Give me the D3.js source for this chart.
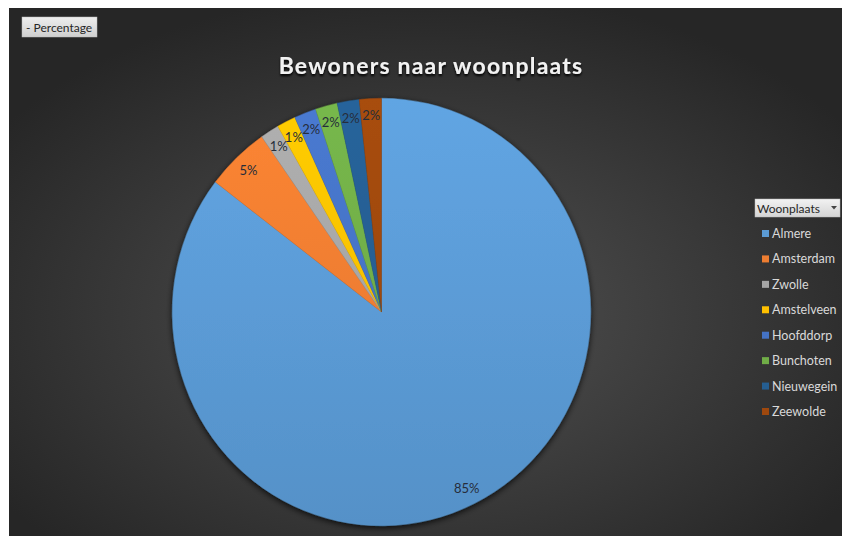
<!DOCTYPE html>
<html>
<head>
<meta charset="utf-8">
<script src="https://cdn.jsdelivr.net/npm/d3@7/dist/d3.min.js"></script>
<style>
  html, body { margin: 0; padding: 0; background: #ffffff; }
  svg { display: block; }
</style>
</head>
<body>
<svg id="chart" width="842" height="536"></svg>
<script>
// ---- data ----
const categories = ["Almere", "Amsterdam", "Zwolle", "Amstelveen", "Hoofddorp", "Bunchoten", "Nieuwegein", "Zeewolde"];
const values = [85.4, 4.9, 1.45, 1.45, 1.7, 1.7, 1.7, 1.7];
const colors = ["#5B9BD5", "#ED7D31", "#A5A5A5", "#FFC000", "#4472C4", "#70AD47", "#255E91", "#9E480E"];
const title = "Bewoners naar woonplaats";
const legendTitle = "Woonplaats";
const fieldButton = "- Percentage";

const W = 842, H = 536;
const svg = d3.select("#chart");
const defs = svg.append("defs");

// background gradient
const bg = defs.append("radialGradient").attr("id", "bg")
  .attr("cx", "50%").attr("cy", "58%").attr("r", "62%");
bg.append("stop").attr("offset", "0%").attr("stop-color", "#525252");
bg.append("stop").attr("offset", "100%").attr("stop-color", "#262626");

svg.append("rect").attr("x", 9).attr("y", 8).attr("width", W - 9).attr("height", H - 8)
  .attr("fill", "url(#bg)");

// shadow filter
const f = defs.append("filter").attr("id", "shadow").attr("x", "-20%").attr("y", "-20%").attr("width", "140%").attr("height", "140%");
f.append("feGaussianBlur").attr("in", "SourceAlpha").attr("stdDeviation", 3).attr("result", "b");
f.append("feOffset").attr("in", "b").attr("dx", 0).attr("dy", 2).attr("result", "o");
f.append("feComponentTransfer").attr("in", "o").attr("result", "o2")
  .append("feFuncA").attr("type", "linear").attr("slope", 0.8);
const fm = f.append("feMerge");
fm.append("feMergeNode").attr("in", "o2");
fm.append("feMergeNode").attr("in", "SourceGraphic");

// title shadow
const tf = defs.append("filter").attr("id", "tshadow").attr("x", "-10%").attr("y", "-30%").attr("width", "120%").attr("height", "160%");
tf.append("feGaussianBlur").attr("in", "SourceAlpha").attr("stdDeviation", 1.2).attr("result", "b");
tf.append("feOffset").attr("in", "b").attr("dx", 0).attr("dy", 1.5).attr("result", "o");
const tfm = tf.append("feMerge");
tfm.append("feMergeNode").attr("in", "o");
tfm.append("feMergeNode").attr("in", "SourceGraphic");

// title
svg.append("text")
  .attr("x", 431).attr("y", 73.5)
  .attr("text-anchor", "middle")
  .attr("font-family", "Lato, 'Open Sans', sans-serif")
  .attr("font-weight", "bold")
  .attr("font-size", 23)
  .attr("letter-spacing", 1.2)
  .attr("fill", "#f2f2f2")
  .attr("filter", "url(#tshadow)")
  .text(title);

// field button
const btnG = defs.append("linearGradient").attr("id", "btn").attr("x1", 0).attr("y1", 0).attr("x2", 0).attr("y2", 1);
btnG.append("stop").attr("offset", "0%").attr("stop-color", "#eeeeee");
btnG.append("stop").attr("offset", "100%").attr("stop-color", "#cfcfcf");
svg.append("rect").attr("x", 22).attr("y", 17).attr("width", 75).attr("height", 20)
  .attr("fill", "url(#btn)").attr("stroke", "#bdbdbd").attr("stroke-width", 0.5);
svg.append("text").attr("x", 26).attr("y", 31.5)
  .attr("font-family", "Lato, sans-serif").attr("font-size", 12).attr("fill", "#262626")
  .text(fieldButton);

// pie (slightly stretched vertically, as in the reference image)
const cx = 381.5, cy = 312, R = 209.2, sy = 213.7 / 209.2;
const data = categories.map((c, i) => ({ name: c, value: values[i], color: colors[i] }));
const pie = d3.pie().value(d => d.value).sort(null).startAngle(0).endAngle(2 * Math.PI);
const arcs = pie(data);
const arc = d3.arc().innerRadius(0).outerRadius(R);
const labelArc = d3.arc().innerRadius(R * 0.92).outerRadius(R * 0.92);

data.forEach((d, i) => {
  const g = defs.append("linearGradient").attr("id", "g" + i)
    .attr("gradientUnits", "userSpaceOnUse")
    .attr("x1", 0).attr("y1", -R).attr("x2", 0).attr("y2", R);
  g.append("stop").attr("offset", "0%").attr("stop-color", d3.color(d.color).brighter(0.18).formatHex());
  g.append("stop").attr("offset", "100%").attr("stop-color", d3.color(d.color).darker(0.18).formatHex());
});

const sg = svg.append("g").attr("filter", "url(#shadow)")
  .append("g").attr("transform", `translate(${cx},${cy}) scale(1,${sy})`);
sg.selectAll("path").data(arcs).join("path")
  .attr("d", arc)
  .attr("fill", (d, i) => `url(#g${i})`)
  .attr("stroke", (d) => d3.color(d.data.color).darker(0.2).formatHex())
  .attr("stroke-width", 0.4);

const fmt = v => Math.round(v) + "%";
svg.append("g").selectAll("text.lbl").data(arcs).join("text")
  .attr("class", "lbl")
  .attr("transform", d => {
    const [x, y] = labelArc.centroid(d);
    return `translate(${cx + x},${cy + y * sy})`;
  })
  .attr("text-anchor", "middle")
  .attr("dy", "0.36em")
  .attr("font-family", "Lato, sans-serif")
  .attr("font-size", 13)
  .attr("fill", "#262d3a")
  .text(d => fmt(d.data.value));

// legend
const lgG = defs.append("linearGradient").attr("id", "lg").attr("x1", 0).attr("y1", 0).attr("x2", 0).attr("y2", 1);
lgG.append("stop").attr("offset", "0%").attr("stop-color", "#f2f2f2");
lgG.append("stop").attr("offset", "100%").attr("stop-color", "#d4d4d4");
svg.append("rect").attr("x", 755).attr("y", 199).attr("width", 85).attr("height", 18)
  .attr("fill", "url(#lg)").attr("stroke", "#bdbdbd").attr("stroke-width", 0.5);
svg.append("text").attr("x", 757).attr("y", 212.5)
  .attr("font-family", "Lato, sans-serif").attr("font-size", 12).attr("fill", "#262626")
  .text(legendTitle);
svg.append("path").attr("d", "M831,206 L837,206 L834,209.5 Z").attr("fill", "#444");

const ly = d3.scalePoint().domain(categories).range([233.5, 411.5]);
const lg = svg.append("g");
const items = lg.selectAll("g").data(data).join("g")
  .attr("transform", d => `translate(0,${ly(d.name)})`);
items.append("rect").attr("x", 762).attr("y", -3.5).attr("width", 7).attr("height", 7)
  .attr("fill", d => d.color);
items.append("text").attr("x", 772).attr("y", 0).attr("dy", "0.36em")
  .attr("font-family", "Lato, sans-serif").attr("font-size", 12.5).attr("fill", "#d9d9d9")
  .text(d => d.name);
</script>
</body>
</html>
